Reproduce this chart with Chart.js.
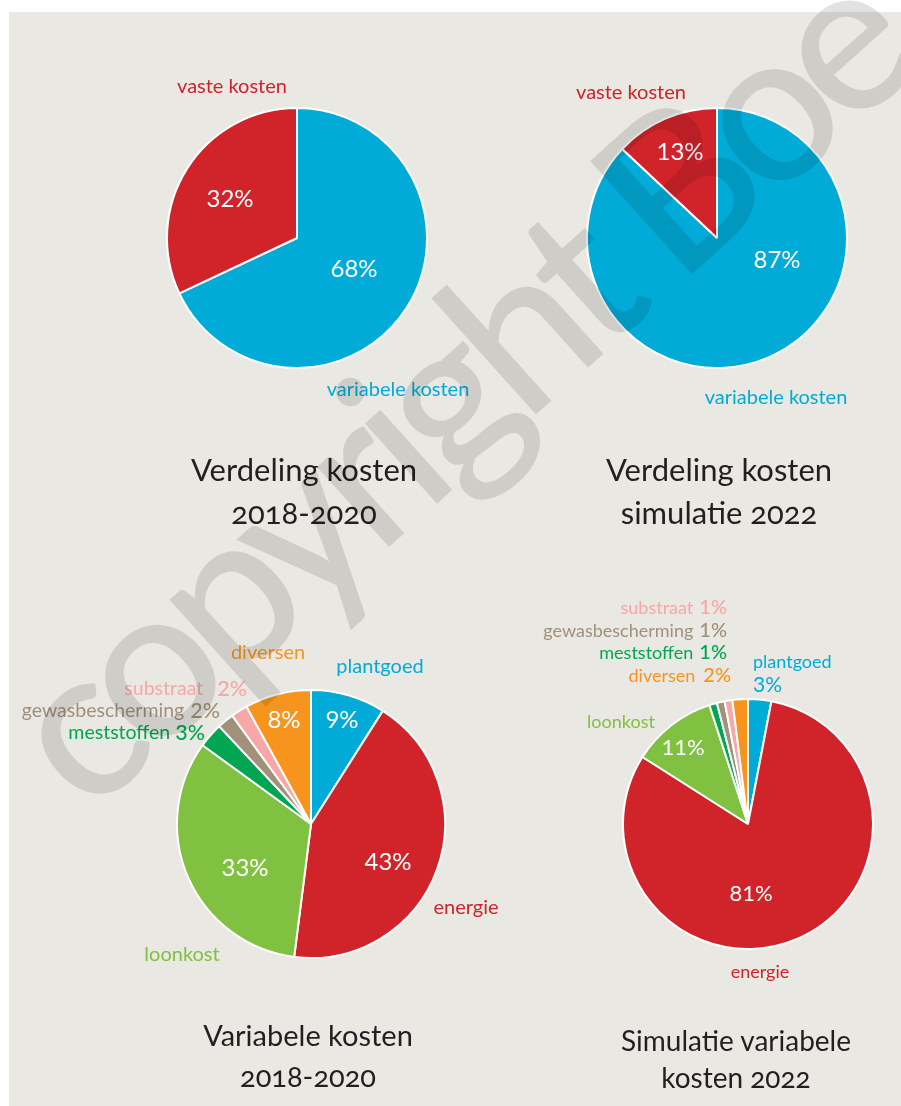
<!DOCTYPE html>
<html>
<head>
<meta charset="utf-8">
<script src="https://cdn.jsdelivr.net/npm/chart.js@4"></script>
<style>
  html, body { margin: 0; padding: 0; background: #fff; overflow: hidden; }
  body { width: 901px; height: 1106px; position: relative; font-family: Lato, "Open Sans", sans-serif; }
  #panel { position: absolute; left: 9px; top: 12px; width: 892px; height: 1094px; background: #e9e8e2; }
  canvas { position: absolute; }
  .title { position: absolute; width: 320px; text-align: center; color: #231f20; font-variant-numeric: oldstyle-nums; }
  #wm { position: absolute; left: 0; top: 0; pointer-events: none; }
</style>
</head>
<body>
<div id="panel"></div>

<canvas id="c1" width="440" height="460" style="left:77px; top:8px;"></canvas>
<canvas id="c2" width="360" height="460" style="left:537px; top:8px;"></canvas>
<canvas id="c3" width="598" height="480" style="left:12px; top:584px;"></canvas>
<canvas id="c4" width="436" height="480" style="left:530px; top:584px;"></canvas>

<div class="title" style="left:144px; top:448px; font-size:31px; line-height:43px;">Verdeling kosten<br>2018-2020</div>
<div class="title" style="left:559px; top:448px; font-size:31px; line-height:43px;">Verdeling kosten<br>simulatie 2022</div>
<div class="title" style="left:148px; top:1014px; font-size:29px; line-height:41px;">Variabele kosten<br>2018-2020</div>
<div class="title" style="left:576px; top:1022px; font-size:28px; line-height:37px;">Simulatie variabele<br>kosten 2022</div>

<svg id="wm" width="901" height="1106">
  <text x="0" y="0" transform="translate(88 818) rotate(-42)" font-family="Lato, 'Open Sans', sans-serif" font-weight="500" font-size="212" letter-spacing="-14" fill="rgba(0,0,0,0.115)">copyright Boe</text>
</svg>

<script>
// verdeling vaste / variabele kosten
var costLabels = ['variabele kosten', 'vaste kosten'];
var costs2018 = [68, 32];
var costs2022 = [87, 13];
var costColors = ['#00acd7', '#d1232a'];

// variabele kosten per post
var varLabels = ['plantgoed', 'energie', 'loonkost', 'meststoffen', 'gewasbescherming', 'substraat', 'diversen'];
var var2018 = [9, 43, 33, 3, 2, 2, 8];
var var2022 = [3, 81, 11, 1, 1, 1, 2];
var varColors = ['#00acd7', '#d1232a', '#80c141', '#00a651', '#a0917a', '#f5a8a5', '#f7941e'];

var FONT = 'Lato, "Open Sans", sans-serif';

// plaatsing van de teksten t.o.v. het middelpunt van de taart
// kind: 'name' = naam, 'pct' = percentage, 'both' = naam + percentage (rechts uitgelijnd)
var layout1 = [
  { i: 1, kind: 'name', dx: -65, dy: -151, size: 20 },
  { i: 1, kind: 'pct', dx: -67, dy: -39, size: 24, white: true },
  { i: 0, kind: 'pct', dx: 57, dy: 31, size: 24, white: true },
  { i: 0, kind: 'name', dx: 101, dy: 152, size: 20 }
];
var layout2 = [
  { i: 1, kind: 'name', dx: -86, dy: -145, size: 20 },
  { i: 1, kind: 'pct', dx: -37, dy: -86, size: 24, white: true },
  { i: 0, kind: 'pct', dx: 60, dy: 22, size: 24, white: true },
  { i: 0, kind: 'name', dx: 59, dy: 160, size: 20 }
];
var layout3 = [
  { i: 0, kind: 'name', dx: 69, dy: -157, size: 20 },
  { i: 0, kind: 'pct', dx: 31, dy: -104, size: 24, white: true },
  { i: 6, kind: 'pct', dx: -27, dy: -104, size: 24, white: true },
  { i: 6, kind: 'name', dx: -43, dy: -171, size: 20 },
  { i: 5, kind: 'both', dx: -64, dy: -135, size: 19.5, gap: 14 },
  { i: 4, kind: 'both', dx: -91, dy: -113, size: 19.5, gap: 6 },
  { i: 3, kind: 'both', dx: -106, dy: -91, size: 19.5, gap: 5 },
  { i: 2, kind: 'pct', dx: -66, dy: 44, size: 24, white: true },
  { i: 1, kind: 'pct', dx: 77, dy: 38, size: 24, white: true },
  { i: 2, kind: 'name', dx: -129, dy: 131, size: 20 },
  { i: 1, kind: 'name', dx: 155, dy: 84, size: 20 }
];
var layout4 = [
  { i: 5, kind: 'both', dx: -21, dy: -216, size: 18, gap: 6 },
  { i: 4, kind: 'both', dx: -21, dy: -193, size: 18, gap: 6 },
  { i: 3, kind: 'both', dx: -21, dy: -171, size: 18, gap: 6 },
  { i: 6, kind: 'both', dx: -17, dy: -148, size: 18, gap: 8 },
  { i: 0, kind: 'name', dx: 5, dy: -162, size: 18, align: 'left' },
  { i: 0, kind: 'pct', dx: 5, dy: -139, size: 21, align: 'left' },
  { i: 2, kind: 'name', dx: -127, dy: -102, size: 18 },
  { i: 2, kind: 'pct', dx: -65, dy: -76, size: 22, white: true },
  { i: 1, kind: 'pct', dx: 3, dy: 70, size: 22, white: true },
  { i: 1, kind: 'name', dx: 12, dy: 148, size: 18 }
];

var pieLabelsPlugin = {
  id: 'pieLabels',
  afterDraw: function (chart) {
    var spec = chart.options.plugins.pieLabels;
    if (!spec) return;
    var arc = chart.getDatasetMeta(0).data[0];
    var cx = arc.x, cy = arc.y;
    var ds = chart.data.datasets[0];
    var names = chart.data.labels;
    var ctx = chart.ctx;
    ctx.save();
    ctx.textBaseline = 'middle';
    spec.forEach(function (s) {
      var color = s.white ? '#ffffff' : ds.backgroundColor[s.i];
      var pct = ds.data[s.i] + '%';
      var x = cx + s.dx, y = cy + s.dy;
      ctx.fillStyle = color;
      if (s.kind === 'both') {
        ctx.font = '500 ' + (s.size + 2) + 'px ' + FONT;
        ctx.textAlign = 'right';
        ctx.fillText(pct, x, y);
        var w = ctx.measureText(pct).width;
        ctx.font = s.size + 'px ' + FONT;
        ctx.fillText(names[s.i], x - w - s.gap, y);
      } else {
        ctx.font = s.size + 'px ' + FONT;
        ctx.textAlign = s.align || 'center';
        ctx.fillText(s.kind === 'pct' ? pct : names[s.i], x, y);
      }
    });
    ctx.restore();
  }
};

function makePie(id, labels, values, colors, radius, layout) {
  var ctx = document.getElementById(id).getContext('2d');
  return new Chart(ctx, {
    type: 'pie',
    data: {
      labels: labels,
      datasets: [{
        data: values,
        backgroundColor: colors,
        borderColor: '#ffffff',
        borderWidth: 2,
        hoverOffset: 0
      }]
    },
    options: {
      responsive: false,
      animation: false,
      events: [],
      radius: radius,
      layout: { padding: 0 },
      plugins: {
        legend: { display: false },
        tooltip: { enabled: false },
        pieLabels: layout
      }
    },
    plugins: [pieLabelsPlugin]
  });
}

makePie('c1', costLabels, costs2018, costColors, 130, layout1);
makePie('c2', costLabels, costs2022, costColors, 130, layout2);
makePie('c3', varLabels, var2018, varColors, 134, layout3);
makePie('c4', varLabels, var2022, varColors, 125, layout4);
</script>
</body>
</html>
